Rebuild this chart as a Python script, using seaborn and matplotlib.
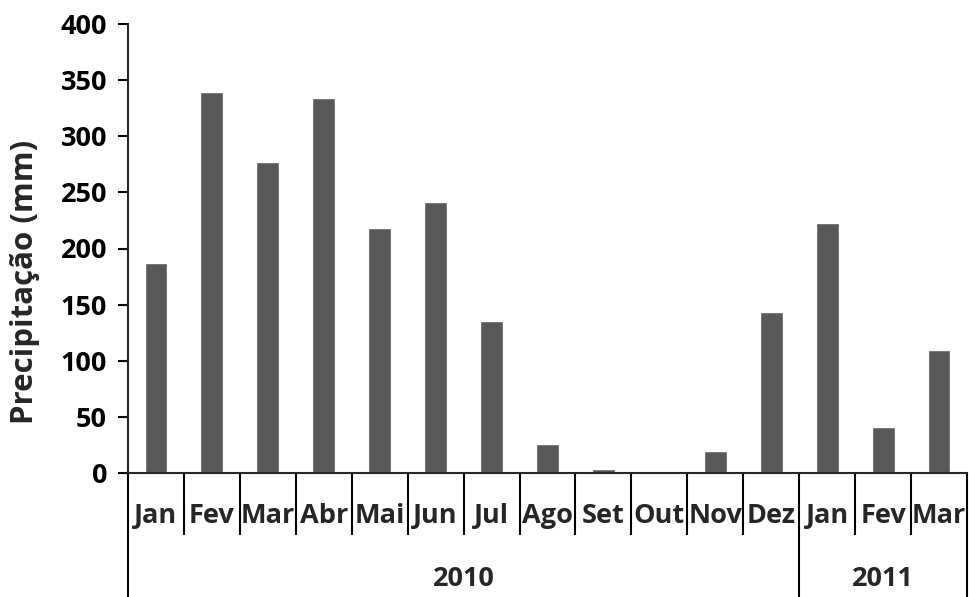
import numpy as np
import pandas as pd
import matplotlib
matplotlib.use('Agg')
import matplotlib.pyplot as plt
import matplotlib.patheffects as pe
import matplotlib.transforms as mtransforms
import seaborn as sns

# dados
meses = ['Jan', 'Fev', 'Mar', 'Abr', 'Mai', 'Jun', 'Jul', 'Ago', 'Set', 'Out',
         'Nov', 'Dez', 'Jan', 'Fev', 'Mar']
anos = ['2010'] * 12 + ['2011'] * 3
precip = [187, 339, 277, 334, 218, 241, 135, 26, 4, 0, 20, 143, 223, 41, 110]
yticks = [0, 50, 100, 150, 200, 250, 300, 350, 400]

df = pd.DataFrame({'mes': meses, 'ano': anos, 'precip': precip})
df['chave'] = df['mes'] + ' ' + df['ano']

sns.set_style('white')
plt.rcParams['font.family'] = ['Open Sans', 'DejaVu Sans']
plt.rcParams['font.weight'] = 'bold'
FS = 19.5

W, H = 969, 597
fig = plt.figure(figsize=(W / 100, H / 100), dpi=100)
ax = fig.add_axes([128 / W, (H - 473) / H, 839 / W, 449 / H])

sns.barplot(data=df, x='chave', y='precip', order=list(df['chave']),
            color='#595959', saturation=1, width=0.41, ax=ax)
for p in ax.patches:
    p.set_path_effects([pe.SimplePatchShadow(offset=(0.5, -2), shadow_rgbFace='#606060', alpha=0.25),
                        pe.Normal()])

ax.set_xlim(-0.5, len(meses) - 0.5)
ax.set_ylim(0, 400)
ax.set_yticks(yticks)
ax.tick_params(axis='y', length=7, width=1.5, direction='out', left=True,
               labelsize=FS, pad=8, colors='black')
for lab in ax.get_yticklabels():
    lab.set_fontweight('bold')
ax.set_xticks([])
ax.set_xlabel('')
ax.set_ylabel('Precipitação (mm)', fontsize=22.5, fontweight='bold')
ax.yaxis.set_label_coords(-0.105, 0.425)

sns.despine(ax=ax)
ax.spines['left'].set_linewidth(1.5)
ax.spines['bottom'].set_linewidth(1.5)

# eixo de categorias em dois niveis
trans = mtransforms.blended_transform_factory(ax.transData, ax.transAxes)
row1 = -62 / 449
row2 = -126 / 449
n = len(meses)
for k in range(n + 1):
    bottom = row2 if k in (0, 12, n) else row1
    ax.plot([k - 0.5, k - 0.5], [0, bottom], transform=trans, color='black',
            lw=1.5, clip_on=False, solid_capstyle='butt')
for i, m in enumerate(meses):
    ax.text(i, -43 / 449, m, transform=trans, ha='center', va='center',
            fontsize=FS, fontweight='bold')
for ano, grupo in df.groupby('ano'):
    centro = grupo.index.to_numpy().mean()
    ax.text(centro, -106 / 449, ano, transform=trans, ha='center', va='center',
            fontsize=FS, fontweight='bold')

fig.savefig('out.png', dpi=100)
